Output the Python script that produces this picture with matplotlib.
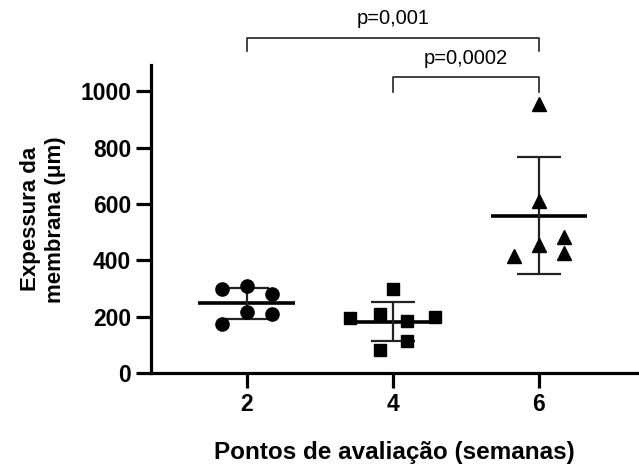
import numpy as np
import matplotlib
matplotlib.use("Agg")
import matplotlib.pyplot as plt

plt.rcParams['font.family'] = ['Liberation Sans', 'DejaVu Sans']

# semanas de avaliacao e espessura medida (um)
semanas = ['2', '4', '6']
sem2 = [298, 310, 280, 218, 212, 174]
sem4 = [298, 195, 210, 186, 200, 114, 82]
sem6 = [955, 612, 456, 482, 425, 416]
grupos = [sem2, sem4, sem6]
marcadores = ['o', 's', '^']
tamanhos = [9.5, 9, 10]
# deslocamento horizontal de cada ponto (espalhamento)
jitter = [[-0.17, 0.0, 0.17, 0.0, 0.17, -0.17],
          [0.0, -0.29, -0.09, 0.1, 0.29, 0.1, -0.09],
          [0.0, 0.0, 0.0, 0.17, 0.17, -0.17]]
pvals = ['p=0,001', 'p=0,0002']

fig = plt.figure(figsize=(6.39, 4.65), dpi=100)
ax = fig.add_axes([0.2358, 0.197, 0.762, 0.663])

for i, g in enumerate(grupos):
    g = np.array(g)
    x = i + np.array(jitter[i])
    ax.plot(x, g, marcadores[i], color='black', ms=tamanhos[i], zorder=3)
    m = g.mean()
    s = g.std(ddof=1)
    ax.hlines(m, i - 0.33, i + 0.33, color='black', lw=2.6, zorder=2)
    ax.errorbar(i, m, yerr=s, fmt='none', ecolor='#222222', elinewidth=1.6,
                capsize=16, capthick=1.6, zorder=2)

# barras de significancia
def barra(x0, x1, ytop, ybot, txt, ytxt):
    ax.plot([x0, x0, x1, x1], [ybot, ytop, ytop, ybot], color='#222222',
            lw=1.2, clip_on=False)
    ax.text((x0 + x1) / 2, ytxt, txt, ha='center', va='baseline',
            fontsize=14.5, clip_on=False)

barra(0, 2, 1187, 1142, pvals[0], 1236)
barra(1, 2, 1049, 998, pvals[1], 1095)

ax.set_xlim(-0.657, 2.675)
ax.set_ylim(0, 1092)
ax.set_xticks(range(3))
ax.set_xticklabels(semanas)
ax.set_yticks([0, 200, 400, 600, 800, 1000])
for lab in ax.get_xticklabels() + ax.get_yticklabels():
    lab.set_fontweight('bold')
    lab.set_fontsize(16.5)
ax.tick_params(width=2.3, length=11, pad=3)
for sp in ['top', 'right']:
    ax.spines[sp].set_visible(False)
for sp in ['left', 'bottom']:
    ax.spines[sp].set_linewidth(2.3)

fig.text(394 / 639, 0.0129, 'Pontos de avaliação (semanas)', fontsize=17.5,
         fontweight='bold', ha='center', va='baseline')
ax.set_ylabel('Expessura da\nmembrana (μm)', fontsize=16, fontweight='bold',
              labelpad=10, linespacing=1.25)

fig.savefig('out.png', dpi=100)
